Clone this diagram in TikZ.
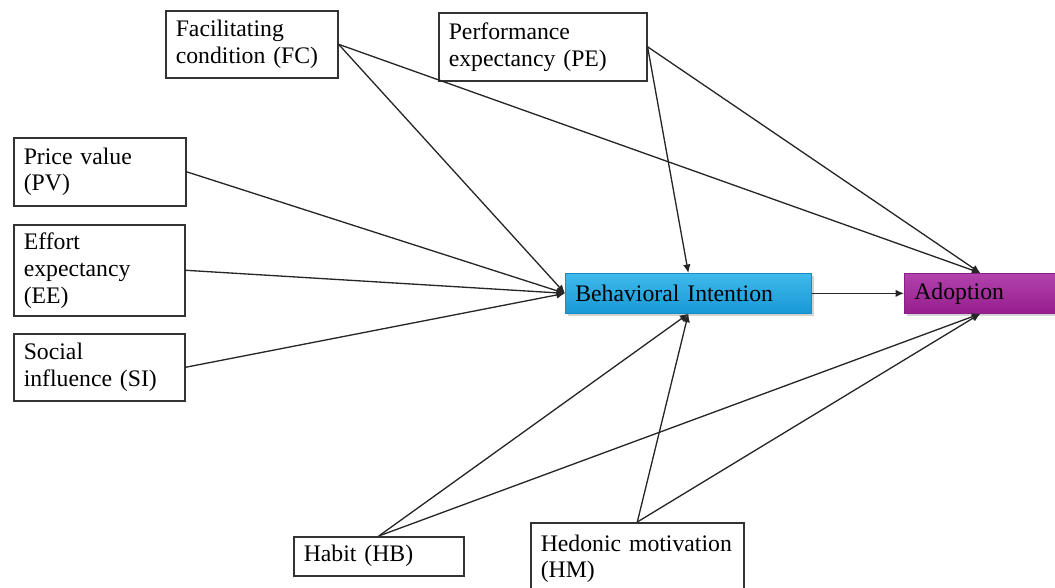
\documentclass[tikz,border=0pt]{standalone}
\usepackage{fontspec}
\setmainfont{Liberation Serif}
\usetikzlibrary{arrows.meta,shadows}
\definecolor{intentTop}{RGB}{62,186,236}
\definecolor{intentBot}{RGB}{24,152,214}
\definecolor{intentEdge}{RGB}{20,140,200}
\definecolor{adoptTop}{RGB}{178,66,172}
\definecolor{adoptBot}{RGB}{150,30,142}
\definecolor{adoptEdge}{RGB}{140,30,135}

\begin{document}
\begin{tikzpicture}[>={Latex[length=1.7mm,width=1.5mm]},
    factor/.style={draw=black!80, line width=0.9pt, fill=white, anchor=north west,
        align=left, inner xsep=0.2cm, font=\fontsize{13.5}{15.3}\selectfont},
    core/.style={anchor=north west, align=left, inner xsep=0.2cm, minimum height=0.8cm,
        font=\fontsize{13.5}{15.3}\selectfont,
        drop shadow={opacity=0.35, shadow xshift=0.05cm, shadow yshift=-0.05cm}},
    link/.style={->, draw=black!85, line width=0.75pt}]
    % 1. Page frame
    \useasboundingbox (0,0) rectangle (21.1,-11.76);
    \clip (0,0) rectangle (21.1,-11.76);

    % 2. Factor boxes
    \node[factor, text width=3.04cm, minimum height=1.34cm] (FC) at (3.3,-0.2) {Facilitating\\condition (FC)};
    \node[factor, text width=3.76cm, minimum height=1.36cm] (PE) at (8.76,-0.24) {Performance\\expectancy (PE)};
    \node[factor, text width=3.04cm, minimum height=1.36cm] (PV) at (0.26,-2.74) {Price value\\(PV)};
    \node[factor, text width=3.02cm, minimum height=1.82cm] (EE) at (0.26,-4.48) {Effort\\expectancy\\(EE)};
    \node[factor, text width=3.02cm, minimum height=1.34cm] (SI) at (0.26,-6.66) {Social\\influence (SI)};
    \node[factor, text width=3.0cm, minimum height=0.78cm] (HB) at (5.86,-10.72) {Habit (HB)};
    \node[factor, text width=3.86cm, minimum height=1.44cm] (HM) at (10.6,-10.44) {Hedonic motivation\\(HM)};

    % 3. Intention and adoption
    \node[core, text width=4.52cm, draw=intentEdge, line width=0.4pt,
        top color=intentTop, bottom color=intentBot] (BI) at (11.3,-5.46) {Behavioral Intention};
    \node[core, text width=2.64cm, draw=adoptEdge, line width=0.4pt,
        top color=adoptTop, bottom color=adoptBot] (AD) at (18.08,-5.46) {Adoption};

    % 4. Paths
    \draw[link] (FC.east) -- (BI.west);
    \draw[link] (FC.east) -- (AD.north);
    \draw[link] (PE.east) -- (BI.north);
    \draw[link] (PE.east) -- (AD.north);
    \draw[link] (PV.east) -- (BI.west);
    \draw[link] (EE.east) -- (BI.west);
    \draw[link] (SI.east) -- (BI.west);
    \draw[link] (BI.east) -- (AD.west);
    \draw[link] (HB.north) -- (BI.south);
    \draw[link] (HB.north) -- (AD.south);
    \draw[link] (HM.north) -- (BI.south);
    \draw[link] (HM.north) -- (AD.south);
\end{tikzpicture}
\end{document}
